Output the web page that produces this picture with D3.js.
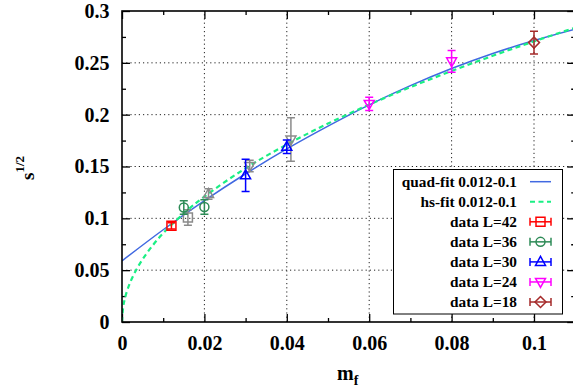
<!DOCTYPE html>
<html><head><meta charset="utf-8">
<script src="https://cdn.jsdelivr.net/npm/d3@7"></script>
<style>
body{margin:0;background:#fff}
svg{display:block}
svg text, svg tspan{font-family:"Liberation Serif","Times New Roman","DejaVu Serif",serif !important;font-weight:bold !important;fill:#000}
</style>
</head><body><svg id="c" width="573" height="390"></svg>
<script>
// ---------- data ----------
const xTicks = [0, 0.02, 0.04, 0.06, 0.08, 0.1];
const xTickLabels = ["0", "0.02", "0.04", "0.06", "0.08", "0.1"];
const xMinorTicks = [0.01, 0.03, 0.05, 0.07, 0.09];
const yTicks = [0, 0.05, 0.1, 0.15, 0.2, 0.25, 0.3];
const yTickLabels = ["0", "0.05", "0.1", "0.15", "0.2", "0.25", "0.3"];
const yMinorTicks = [0.025, 0.075, 0.125, 0.175, 0.225, 0.275];

const legendLabels = ["quad-fit 0.012-0.1", "hs-fit 0.012-0.1", "data L=42", "data L=36", "data L=30", "data L=24", "data L=18"];

// fit curves
const quadX = [0, 0.01, 0.02, 0.03, 0.04, 0.05, 0.06, 0.07, 0.08, 0.09, 0.10, 0.11];
const quadY = [0.059, 0.089, 0.117, 0.143, 0.167, 0.189, 0.2095, 0.228, 0.2445, 0.259, 0.2715, 0.2825];
const hsX = [0, 0.0003, 0.0007, 0.0015, 0.003, 0.005, 0.0075, 0.01, 0.015, 0.02, 0.03, 0.04, 0.05, 0.06, 0.07, 0.08, 0.09, 0.10, 0.11];
const hsY = [0, 0.0148, 0.0226, 0.0332, 0.0469, 0.0605, 0.0741, 0.0856, 0.1048, 0.121, 0.1483, 0.1712, 0.1914, 0.2097, 0.2265, 0.2421, 0.2568, 0.2707, 0.2839];

// data points: x, y, error
const dataL42 = [{x: 0.012, y: 0.0928, e: 0.003}];
const dataL36 = [{x: 0.015, y: 0.1105, e: 0.0065}, {x: 0.020, y: 0.111, e: 0.007}];
const dataL30 = [{x: 0.030, y: 0.1415, e: 0.0155}, {x: 0.040, y: 0.169, e: 0.0065}];
const dataL24 = [{x: 0.060, y: 0.2103, e: 0.0064}, {x: 0.080, y: 0.2515, e: 0.0105}];
const dataL18 = [{x: 0.100, y: 0.2695, e: 0.011}];
// excluded points (grey)
const greyL42 = [{x: 0.016, y: 0.1008, e: 0.0075}];
const greyL30 = [{x: 0.021, y: 0.1235, e: 0.005}];
const greyL24 = [{x: 0.031, y: 0.1505, e: 0.0055}, {x: 0.041, y: 0.176, e: 0.021}];

// ---------- layout ----------
const FONT = '"Liberation Serif","Times New Roman","DejaVu Serif",serif';
const svg = d3.select("#c");
const L = 122, R = 575.2, T = 11, B = 322;
const x = d3.scaleLinear().domain([0, 0.11]).range([L, R]);
const y = d3.scaleLinear().domain([0, 0.3]).range([B, T]);

svg.append("defs").append("clipPath").attr("id", "clip")
  .append("rect").attr("x", L).attr("y", T).attr("width", R - L).attr("height", B - T);

// grid
const grid = svg.append("g");
grid.selectAll("line.gx").data(xTicks.filter(d => d > 0)).join("line")
  .attr("x1", d => x(d)).attr("x2", d => x(d)).attr("y1", B).attr("y2", T)
  .attr("stroke", "#222").attr("stroke-width", 1).attr("stroke-dasharray", "1.2,3");
grid.selectAll("line.gy").data(yTicks.filter(d => d > 0 && d < 0.3)).join("line")
  .attr("y1", d => y(d)).attr("y2", d => y(d)).attr("x1", L).attr("x2", R)
  .attr("stroke", "#222").attr("stroke-width", 1).attr("stroke-dasharray", "1.2,3");

// axes (ticks inward)
function styleAxis(g) {
  g.attr("font-family", FONT);
  g.select(".domain").remove();
  g.selectAll(".tick line").attr("stroke", "#000").attr("stroke-width", 1.3);
}
const fs = 20;
function styleText(g) {
  g.selectAll("text").attr("font-size", fs).style("font-family", FONT).style("font-weight", "bold").attr("fill", "#000");
}
svg.append("g").attr("transform", `translate(0,${B})`)
  .call(d3.axisBottom(x).tickValues(xTicks).tickFormat((d, i) => xTickLabels[i]).tickSizeInner(-8).tickSizeOuter(0).tickPadding(14))
  .call(styleAxis).call(styleText);
svg.append("g").attr("transform", `translate(0,${B})`)
  .call(d3.axisBottom(x).tickValues(xMinorTicks).tickFormat("").tickSizeInner(-4).tickSizeOuter(0)).call(styleAxis);
svg.append("g").attr("transform", `translate(0,${T})`)
  .call(d3.axisTop(x).tickValues(xTicks).tickFormat("").tickSizeInner(-8).tickSizeOuter(0)).call(styleAxis);
svg.append("g").attr("transform", `translate(0,${T})`)
  .call(d3.axisTop(x).tickValues(xMinorTicks).tickFormat("").tickSizeInner(-4).tickSizeOuter(0)).call(styleAxis);

svg.append("g").attr("transform", `translate(${L},0)`)
  .call(d3.axisLeft(y).tickValues(yTicks).tickFormat((d, i) => yTickLabels[i]).tickSizeInner(-8).tickSizeOuter(0).tickPadding(12.5))
  .call(styleAxis).call(styleText);
svg.append("g").attr("transform", `translate(${L},0)`)
  .call(d3.axisLeft(y).tickValues(yMinorTicks).tickFormat("").tickSizeInner(-4).tickSizeOuter(0)).call(styleAxis);
svg.append("g").attr("transform", `translate(${R},0)`)
  .call(d3.axisRight(y).tickValues(yTicks).tickFormat("").tickSizeInner(-8).tickSizeOuter(0)).call(styleAxis);
svg.append("g").attr("transform", `translate(${R},0)`)
  .call(d3.axisRight(y).tickValues(yMinorTicks).tickFormat("").tickSizeInner(-4).tickSizeOuter(0)).call(styleAxis);

// curves
const plot = svg.append("g").attr("clip-path", "url(#clip)");
const line = d3.line().x(d => x(d[0])).y(d => y(d[1])).curve(d3.curveCatmullRom);
const quadCol = "#4169e1", hsCol = "#1aef84";
plot.append("path").datum(quadX.map((d, i) => [d, quadY[i]]))
  .attr("d", line).attr("fill", "none").attr("stroke", quadCol).attr("stroke-width", 1.5);
plot.append("path").datum(hsX.map((d, i) => [d, hsY[i]]))
  .attr("d", line).attr("fill", "none").attr("stroke", hsCol).attr("stroke-width", 2.2).attr("stroke-dasharray", "5,3.5");

// symbols
const sym = {
  square: "M-4.5,-4.5h9v9h-9Z",
  circle: "M4.5,0A4.5,4.5 0 1,1 -4.5,0A4.5,4.5 0 1,1 4.5,0Z",
  up: "M0,-5.5L5,3.5L-5,3.5Z",
  down: "M0,5.5L5,-3.5L-5,-3.5Z",
  diamond: "M0,-5.5L5.5,0L0,5.5L-5.5,0Z"
};
function drawSeries(data, shape, col) {
  const g = plot.append("g").attr("stroke", col).attr("fill", "none").attr("stroke-width", 1.5);
  data.forEach(d => {
    const cx = x(d.x), y1 = y(d.y + d.e), y0 = y(d.y - d.e), cy = y(d.y);
    g.append("line").attr("x1", cx).attr("x2", cx).attr("y1", y1).attr("y2", y0);
    g.append("line").attr("x1", cx - 4).attr("x2", cx + 4).attr("y1", y1).attr("y2", y1);
    g.append("line").attr("x1", cx - 4).attr("x2", cx + 4).attr("y1", y0).attr("y2", y0);
    g.append("path").attr("d", sym[shape]).attr("transform", `translate(${cx},${cy})`);
  });
}
const grey = "#8a8a8a";
drawSeries(greyL42, "square", grey);
drawSeries(greyL30, "up", grey);
drawSeries(greyL24, "down", grey);
const series = [
  {data: dataL42, shape: "square", col: "#ff0000"},
  {data: dataL36, shape: "circle", col: "#2e8b57"},
  {data: dataL30, shape: "up", col: "#0000ff"},
  {data: dataL24, shape: "down", col: "#ff00ff"},
  {data: dataL18, shape: "diamond", col: "#a52a2a"}
];
series.forEach(s => drawSeries(s.data, s.shape, s.col));

// frame
svg.append("rect").attr("x", L).attr("y", T).attr("width", R - L).attr("height", B - T)
  .attr("fill", "none").attr("stroke", "#000").attr("stroke-width", 1.6);

// legend
const lg = svg.append("g");
lg.append("rect").attr("x", 393.5).attr("y", 169.5).attr("width", 169).attr("height", 144.5)
  .attr("fill", "#fff").attr("stroke", "#000").attr("stroke-width", 1);
const rowY = i => 181.7 + i * 20.05;
legendLabels.forEach((t, i) => {
  lg.append("text").attr("x", 517).attr("y", rowY(i) + 5.2).attr("text-anchor", "end")
    .attr("font-size", 15.3).text(t);
});
lg.append("line").attr("x1", 530).attr("x2", 551).attr("y1", rowY(0)).attr("y2", rowY(0))
  .attr("stroke", quadCol).attr("stroke-width", 1.5);
lg.append("line").attr("x1", 530).attr("x2", 551).attr("y1", rowY(1)).attr("y2", rowY(1))
  .attr("stroke", hsCol).attr("stroke-width", 2.2).attr("stroke-dasharray", "5,3.5");
series.forEach((s, k) => {
  const cy = rowY(k + 2);
  const g = lg.append("g").attr("stroke", s.col).attr("fill", "none").attr("stroke-width", 1.5);
  g.append("line").attr("x1", 530).attr("x2", 551).attr("y1", cy).attr("y2", cy);
  g.append("line").attr("x1", 530).attr("x2", 530).attr("y1", cy - 4).attr("y2", cy + 4);
  g.append("line").attr("x1", 551).attr("x2", 551).attr("y1", cy - 4).attr("y2", cy + 4);
  g.append("path").attr("d", sym[s.shape]).attr("transform", `translate(540.5,${cy})`);
});

// axis titles
const xt = svg.append("text").attr("x", 337).attr("y", 380).attr("font-size", 20);
xt.append("tspan").text("m");
xt.append("tspan").attr("font-size", 14).attr("dy", 5).text("f");
const yt = svg.append("text").attr("transform", "translate(33.5,180) rotate(-90)").attr("font-size", 19);
yt.append("tspan").text("s");
yt.append("tspan").attr("font-size", 13).attr("dy", -10).text("1/2");
</script></body></html>
